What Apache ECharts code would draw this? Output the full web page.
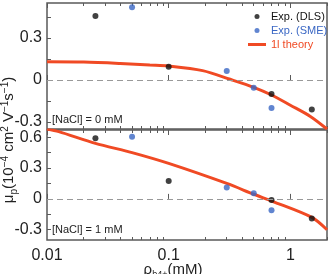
<!DOCTYPE html>
<html>
<head>
<meta charset="utf-8">
<script src="https://cdn.jsdelivr.net/npm/echarts@6/dist/echarts.min.js"></script>
<style>
  html, body { margin: 0; padding: 0; background: #fff; }
  #chart { width: 331px; height: 274px; }
</style>
</head>
<body>
<div id="chart"></div>
<script>
// 数据 (x: ρ in mM, y: μp)
var dlsTop = [[0.025, 0.457], [0.1, 0.095], [0.7, -0.10], [1.5, -0.21]]
var smeTop = [[0.05, 0.52], [0.3, 0.064], [0.5, -0.055], [0.7, -0.20]]
var theoryTop = [[0.01, 0.13], [0.02, 0.128], [0.04, 0.118], [0.07, 0.107], [0.1, 0.10], [0.19, 0.067],
  [0.32, 0.005], [0.5, -0.052], [0.7, -0.107], [1, -0.18], [1.46, -0.26], [2, -0.35]]

var dlsBot = [[0.025, 0.59], [0.1, 0.175], [0.7, -0.01], [1.5, -0.19]]
var smeBot = [[0.05, 0.605], [0.3, 0.11], [0.5, 0.055], [0.7, -0.11]]
var theoryBot = [[0.01, 0.68], [0.0125, 0.654], [0.025, 0.54], [0.05, 0.45], [0.1, 0.345], [0.3, 0.15],
  [0.5, 0.045], [0.72, -0.026], [1.5, -0.18], [2, -0.30]]

var xMajor = [0.01, 0.1, 1]
var xMinor = [0.02, 0.03, 0.04, 0.05, 0.06, 0.07, 0.08, 0.09, 0.2, 0.3, 0.4, 0.5, 0.6, 0.7, 0.8, 0.9, 2]
var yLabelsTop = [-0.3, 0, 0.3]
var yTicksTop = [-0.3, -0.15, 0, 0.15, 0.3, 0.45]
var yLabelsBot = [-0.3, 0, 0.3, 0.6]
var yTicksBot = [-0.3, -0.15, 0, 0.15, 0.3, 0.45, 0.6]

var black = '#111111'
var blue = '#3a67c4'
var red = '#f04a24'
var frame = '#5a5a5a'
var font = 'Liberation Sans'

var chart = echarts.init(document.getElementById('chart'))

// 生成一条 x 轴 (刻度线用)
function xAx (grid, pos, ticks, len, extra) {
  var ax = {
    type: 'log', logBase: 10, gridIndex: grid, position: pos, min: 0.01, max: 2,
    axisLine: { show: false },
    axisTick: { show: true, inside: true, length: len, customValues: ticks, lineStyle: { color: frame, width: 1 } },
    axisLabel: { show: false },
    splitLine: { show: false }
  }
  return Object.assign(ax, extra || {})
}

function yAx (grid, min, max, labels, ticks) {
  return {
    type: 'value', gridIndex: grid, min: min, max: max,
    axisLine: { show: false },
    axisTick: { show: true, inside: true, length: 4, customValues: ticks, lineStyle: { color: frame } },
    axisLabel: { show: true, customValues: labels, margin: 5, fontSize: 16, color: '#222', fontFamily: font },
    splitLine: { show: false }
  }
}

var zeroLine = {
  silent: true, symbol: 'none', label: { show: false },
  lineStyle: { type: [6, 4], color: '#999', width: 1 },
  data: [{ yAxis: 0 }]
}

chart.setOption({
  animation: false,
  textStyle: { fontFamily: font },
  grid: [
    { left: 47, top: 3, width: 280, height: 126, show: true, borderColor: frame, borderWidth: 1.5, backgroundColor: 'transparent', outerBoundsMode: 'none' },
    { left: 47, top: 130, width: 280, height: 110, show: true, borderColor: frame, borderWidth: 1.5, backgroundColor: 'transparent', outerBoundsMode: 'none' }
  ],
  legend: {
    orient: 'vertical', left: 243, top: 5, itemGap: 1, itemWidth: 18, itemHeight: 5,
    textStyle: { fontSize: 11, fontFamily: font, lineHeight: 13 },
    data: [
      { name: 'Exp. (DLS)', icon: 'circle', itemStyle: { color: black }, textStyle: { color: black } },
      { name: 'Exp. (SME)', icon: 'circle', itemStyle: { color: blue }, textStyle: { color: blue } },
      { name: '1l theory', icon: 'path://M0,0h18v3h-18z', itemStyle: { color: red }, textStyle: { color: red } }
    ]
  },
  xAxis: [
    xAx(0, 'bottom', xMajor, 5),
    xAx(0, 'bottom', xMinor, 3),
    xAx(0, 'top', xMajor, 5),
    xAx(0, 'top', xMinor, 3),
    xAx(1, 'bottom', xMajor, 5, {
      axisLabel: { show: true, customValues: xMajor, margin: 8, fontSize: 16, color: '#222', fontFamily: font }
    }),
    xAx(1, 'bottom', xMinor, 3),
    xAx(1, 'top', xMajor, 5),
    xAx(1, 'top', xMinor, 3)
  ],
  yAxis: [
    yAx(0, -0.35, 0.55, yLabelsTop, yTicksTop),
    yAx(1, -0.4, 0.67, yLabelsBot, yTicksBot)
  ],
  graphic: [
    {
      type: 'text', x: 9, y: 140, rotation: Math.PI / 2,
      style: {
        text: '{a|μ}{s|p}{a|(10}{u|−4}{a| cm}{u|2}{a| V}{u|−1}{a|s}{u|−1}{a|)}',
        align: 'center', verticalAlign: 'middle',
        rich: {
          a: { fontSize: 15, fill: '#222', fontFamily: font, lineHeight: 20 },
          s: { fontSize: 10, fill: '#222', fontFamily: font, padding: [10, 0, 0, 0] },
          u: { fontSize: 10, fill: '#222', fontFamily: font, padding: [0, 0, 8, 0] }
        }
      }
    },
    {
      // x 轴标题
      type: 'text', x: 173, y: 270,
      style: {
        text: '{a|ρ}{s|b4+}{a|(mM)}',
        align: 'center', verticalAlign: 'middle',
        rich: {
          a: { fontSize: 15, fill: '#222', fontFamily: font, lineHeight: 18 },
          s: { fontSize: 9, fill: '#222', fontFamily: font, padding: [10, 0, 0, 0] }
        }
      }
    },
    { type: 'text', left: 52, top: 114, style: { text: '[NaCl] = 0 mM', fontSize: 11, fill: '#222', fontFamily: font } },
    { type: 'text', left: 52, top: 224, style: { text: '[NaCl] = 1 mM', fontSize: 11, fill: '#222', fontFamily: font } }
  ],
  series: [
    {
      name: '1l theory', type: 'line', xAxisIndex: 0, yAxisIndex: 0, data: theoryTop,
      smooth: 0.3, showSymbol: false, lineStyle: { color: red, width: 3 }, itemStyle: { color: red },
      markLine: zeroLine, z: 2
    },
    { name: 'Exp. (DLS)', type: 'scatter', xAxisIndex: 0, yAxisIndex: 0, data: dlsTop, symbolSize: 6, itemStyle: { color: black }, z: 3 },
    { name: 'Exp. (SME)', type: 'scatter', xAxisIndex: 0, yAxisIndex: 0, data: smeTop, symbolSize: 6, itemStyle: { color: blue }, z: 3 },
    {
      name: '1l theory', type: 'line', xAxisIndex: 4, yAxisIndex: 1, data: theoryBot,
      smooth: 0.3, showSymbol: false, lineStyle: { color: red, width: 3 }, itemStyle: { color: red },
      markLine: zeroLine, z: 2
    },
    { name: 'Exp. (DLS)', type: 'scatter', xAxisIndex: 4, yAxisIndex: 1, data: dlsBot, symbolSize: 6, itemStyle: { color: black }, z: 3 },
    { name: 'Exp. (SME)', type: 'scatter', xAxisIndex: 4, yAxisIndex: 1, data: smeBot, symbolSize: 6, itemStyle: { color: blue }, z: 3 }
  ]
})
</script>
</body>
</html>
